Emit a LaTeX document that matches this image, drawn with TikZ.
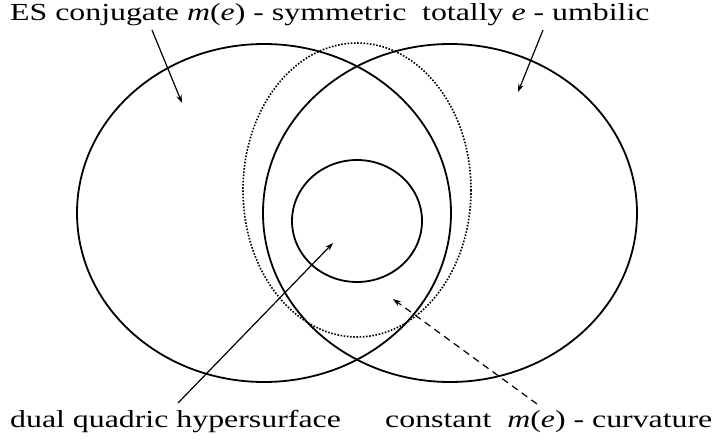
\documentclass[tikz,border=0pt]{standalone}
\usepackage{fontspec}
\setmainfont{Liberation Serif}[FakeStretch=1.3]
\usetikzlibrary{arrows.meta}

\begin{document}
\begin{tikzpicture}[
    x=1pt, y=-1pt,
    set/.style={line width=1.8pt},
    dotset/.style={line width=1.6pt, dash pattern=on 1.6pt off 1.6pt},
    arrow/.style={-{Stealth[length=8pt, width=5.5pt]}, line width=1.2pt},
    setname/.style={anchor=base west, inner sep=0pt, font=\fontsize{24.5}{29}\selectfont}
]
    \useasboundingbox (0,0) rectangle (714,443);

    % Sets
    \draw[set] (264,213) ellipse [x radius=187, y radius=169];
    \draw[set] (450,213) ellipse [x radius=187, y radius=169];
    \draw[dotset] (357,190) ellipse [x radius=114, y radius=147];
    \draw[set] (357,221) ellipse [x radius=65, y radius=61];

    % Labels
    \node[setname] (conj) at (10,21) {ES conjugate \textit{m}(\textit{e}) - symmetric};
    \node[setname] (umb) at (422,21) {totally \textit{e} - umbilic};
    \node[setname] (quad) at (10,427) {dual quadric hypersurface};
    \node[setname] (curv) at (385,427) {constant\ \ \textit{m}(\textit{e}) - curvature};

    % Arrow ends
    \coordinate (conj-foot) at (152,30);
    \coordinate (conj-tip) at (182,103);
    \coordinate (umb-foot) at (543,30);
    \coordinate (umb-tip) at (518,92);
    \coordinate (quad-foot) at (178,403);
    \coordinate (quad-tip) at (333,243);
    \coordinate (curv-foot) at (537,404);
    \coordinate (curv-tip) at (393,299);

    % Arrows
    \draw[arrow] (conj-foot) -- (conj-tip);
    \draw[arrow] (umb-foot) -- (umb-tip);
    \draw[arrow] (quad-foot) -- (quad-tip);
    \draw[arrow, dash pattern=on 7pt off 5pt] (curv-foot) -- (curv-tip);
\end{tikzpicture}
\end{document}
